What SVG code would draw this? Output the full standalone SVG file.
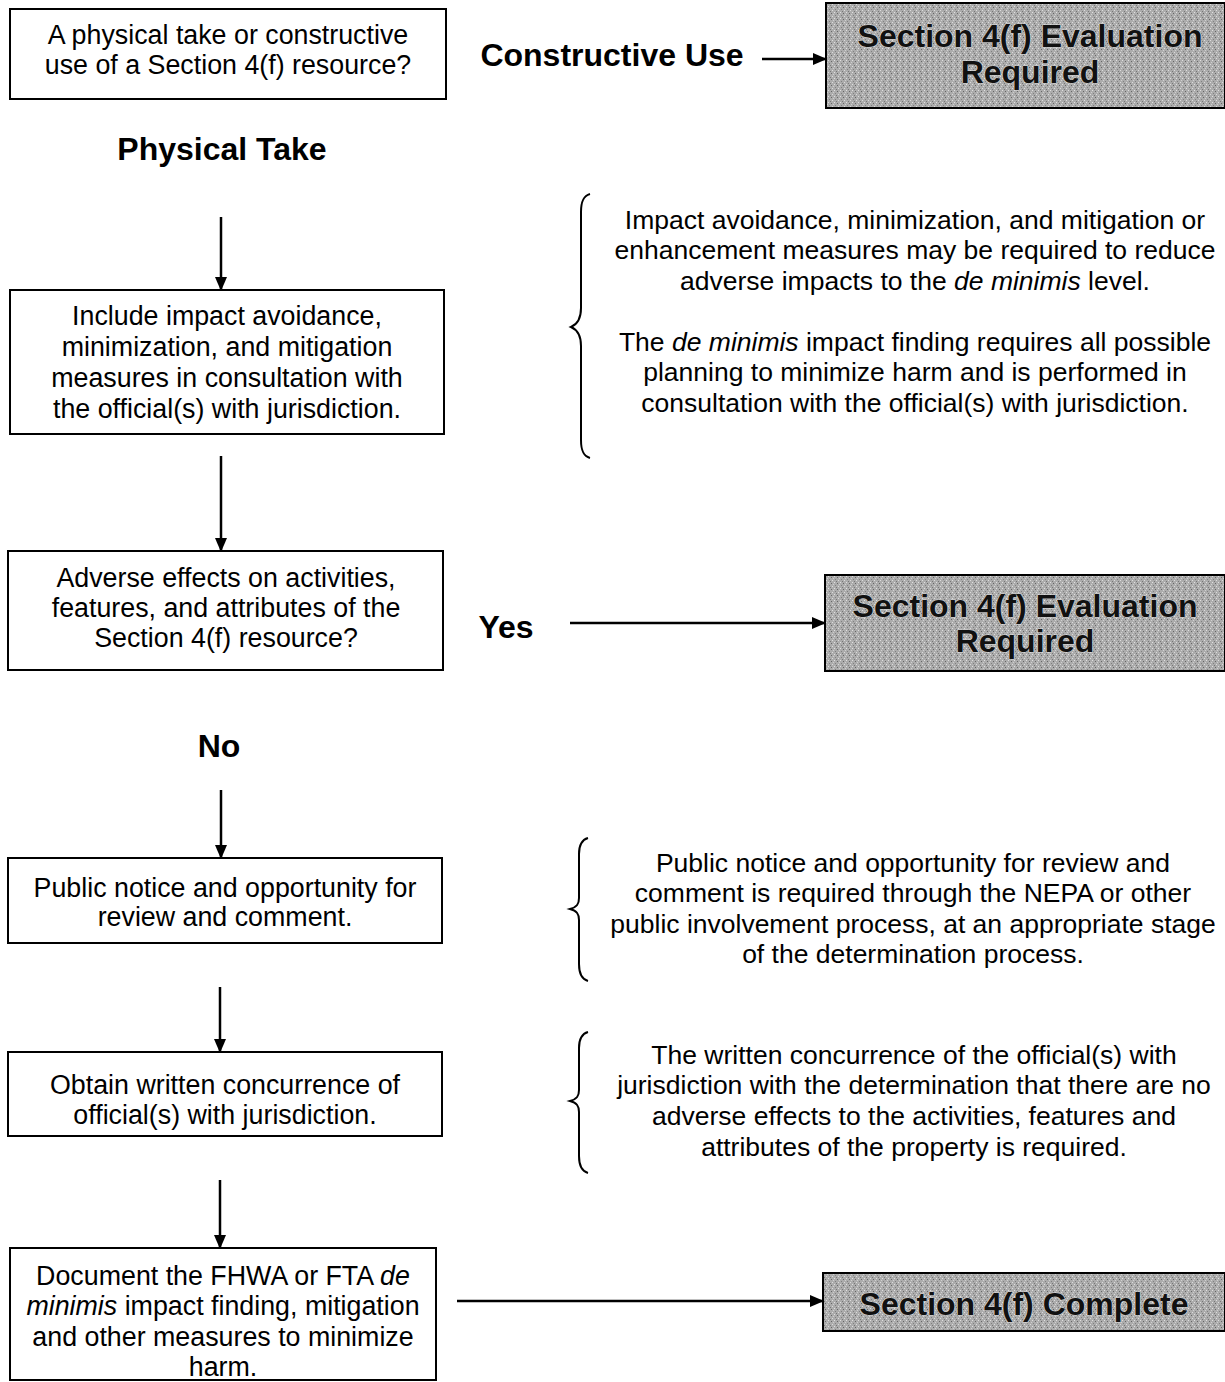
<svg xmlns="http://www.w3.org/2000/svg" width="1225" height="1382" viewBox="0 0 1225 1382">
<defs>
<style>
.box{fill:#fff;stroke:#000;stroke-width:2}
.t{font-family:"Liberation Sans",Arial,sans-serif;font-size:26.8px;fill:#000;text-anchor:middle}
.n{font-family:"Liberation Sans",Arial,sans-serif;font-size:26.5px;fill:#000;text-anchor:middle}
.lb{font-family:"Liberation Sans",Arial,sans-serif;font-size:32px;font-weight:bold;fill:#000;text-anchor:middle}
.gt{font-family:"Liberation Sans",Arial,sans-serif;font-size:32px;font-weight:bold;fill:#111;text-anchor:middle;stroke:#d8d8d8;stroke-width:1;paint-order:stroke}
.gbox{fill:url(#dither);stroke:#000;stroke-width:2}
.ln{stroke:#000;stroke-width:2.5;fill:none}
.br{stroke:#000;stroke-width:2;fill:none}
</style>
<pattern id="dither" width="6" height="6" patternUnits="userSpaceOnUse">
<rect width="6" height="6" fill="#acacac"/>
<rect x="0" y="0" width="1" height="1" fill="#e0e0e0"/>
<rect x="3" y="1" width="1" height="1" fill="#666"/>
<rect x="1" y="3" width="1" height="1" fill="#808080"/>
<rect x="4" y="4" width="1" height="1" fill="#dcdcdc"/>
<rect x="2" y="5" width="1" height="1" fill="#777"/>
<rect x="5" y="2" width="1" height="1" fill="#d0d0d0"/>
</pattern>
<marker id="ah" markerWidth="14" markerHeight="12" refX="13" refY="6" orient="auto" markerUnits="userSpaceOnUse">
<path d="M0,0 L14,6 L0,12 Z" fill="#000"/>
</marker>
</defs>

<g id="connectors">
<line class="ln" x1="762" y1="59" x2="826" y2="59" marker-end="url(#ah)" stroke-width="2"/>
<line class="ln" x1="221" y1="217" x2="221" y2="290" marker-end="url(#ah)"/>
<line class="ln" x1="221" y1="456" x2="221" y2="551" marker-end="url(#ah)"/>
<line class="ln" x1="570" y1="623" x2="825" y2="623" marker-end="url(#ah)"/>
<line class="ln" x1="221" y1="790" x2="221" y2="858" marker-end="url(#ah)"/>
<line class="ln" x1="220" y1="987" x2="220" y2="1052" marker-end="url(#ah)"/>
<line class="ln" x1="220" y1="1180" x2="220" y2="1248" marker-end="url(#ah)"/>
<line class="ln" x1="457" y1="1301" x2="823" y2="1301" marker-end="url(#ah)"/>
</g>

<g id="n1">
<rect class="box" x="10" y="9" width="436" height="90"/>
<text class="t" x="228" y="44">A physical take or constructive</text>
<text class="t" x="228" y="74">use of a Section 4(f) resource?</text>
</g>

<g id="lbl-constructive"><text class="lb" x="612" y="66">Constructive Use</text></g>

<g id="g1">
<rect class="gbox" x="826" y="3" width="399" height="105"/>
<text class="gt" x="1030" y="47">Section 4(f) Evaluation</text>
<text class="gt" x="1030" y="83">Required</text>
</g>

<g id="lbl-physical"><text class="lb" x="222" y="160">Physical Take</text></g>

<g id="n2">
<rect class="box" x="10" y="290" width="434" height="144"/>
<text class="t" x="227" y="325">Include impact avoidance,</text>
<text class="t" x="227" y="356">minimization, and mitigation</text>
<text class="t" x="227" y="387">measures in consultation with</text>
<text class="t" x="227" y="418">the official(s) with jurisdiction.</text>
</g>

<g id="note1">
<path class="br" d="M590,194 C583,196 581,202 581,212 L581,308 C581,318 578,324 571,327 C578,330 581,336 581,346 L581,440 C581,450 583,456 590,458"/>
<text class="n" x="915" y="229">Impact avoidance, minimization, and mitigation or</text>
<text class="n" x="915" y="259">enhancement measures may be required to reduce</text>
<text class="n" x="915" y="290">adverse impacts to the <tspan font-style="italic">de minimis</tspan> level.</text>
<text class="n" x="915" y="351">The <tspan font-style="italic">de minimis</tspan> impact finding requires all possible</text>
<text class="n" x="915" y="381">planning to minimize harm and is performed in</text>
<text class="n" x="915" y="412">consultation with the official(s) with jurisdiction.</text>
</g>

<g id="n3">
<rect class="box" x="8" y="551" width="435" height="119"/>
<text class="t" x="226" y="587">Adverse effects on activities,</text>
<text class="t" x="226" y="617">features, and attributes of the</text>
<text class="t" x="226" y="647">Section 4(f) resource?</text>
</g>

<g id="lbl-yes"><text class="lb" x="506" y="638">Yes</text></g>

<g id="g2">
<rect class="gbox" x="825" y="575" width="400" height="96"/>
<text class="gt" x="1025" y="617">Section 4(f) Evaluation</text>
<text class="gt" x="1025" y="652">Required</text>
</g>

<g id="lbl-no"><text class="lb" x="219" y="757">No</text></g>

<g id="n4">
<rect class="box" x="8" y="858" width="434" height="85"/>
<text class="t" x="225" y="897">Public notice and opportunity for</text>
<text class="t" x="225" y="926">review and comment.</text>
</g>

<g id="note2">
<path class="br" d="M588,838 C581,840 579,846 579,854 L579,898 C579,904 577,907 570,909 C577,911 579,914 579,920 L579,964 C579,973 581,979 588,981"/>
<text class="n" x="913" y="872">Public notice and opportunity for review and</text>
<text class="n" x="913" y="902">comment is required through the NEPA or other</text>
<text class="n" x="913" y="933">public involvement process, at an appropriate stage</text>
<text class="n" x="913" y="963">of the determination process.</text>
</g>

<g id="n5">
<rect class="box" x="8" y="1052" width="434" height="84"/>
<text class="t" x="225" y="1094">Obtain written concurrence of</text>
<text class="t" x="225" y="1124">official(s) with jurisdiction.</text>
</g>

<g id="note3">
<path class="br" d="M588,1032 C581,1034 579,1040 579,1048 L579,1090 C579,1096 577,1099 570,1101 C577,1103 579,1106 579,1112 L579,1156 C579,1165 581,1171 588,1173"/>
<text class="n" x="914" y="1064">The written concurrence of the official(s) with</text>
<text class="n" x="914" y="1094">jurisdiction with the determination that there are no</text>
<text class="n" x="914" y="1125">adverse effects to the activities, features and</text>
<text class="n" x="914" y="1156">attributes of the property is required.</text>
</g>

<g id="n6">
<rect class="box" x="10" y="1248" width="426" height="132"/>
<text class="t" x="223" y="1285">Document the FHWA or FTA <tspan font-style="italic">de</tspan></text>
<text class="t" x="223" y="1315"><tspan font-style="italic">minimis</tspan> impact finding, mitigation</text>
<text class="t" x="223" y="1346">and other measures to minimize</text>
<text class="t" x="223" y="1376">harm.</text>
</g>

<g id="g3">
<rect class="gbox" x="823" y="1273" width="402" height="58"/>
<text class="gt" x="1024" y="1315">Section 4(f) Complete</text>
</g>
</svg>
